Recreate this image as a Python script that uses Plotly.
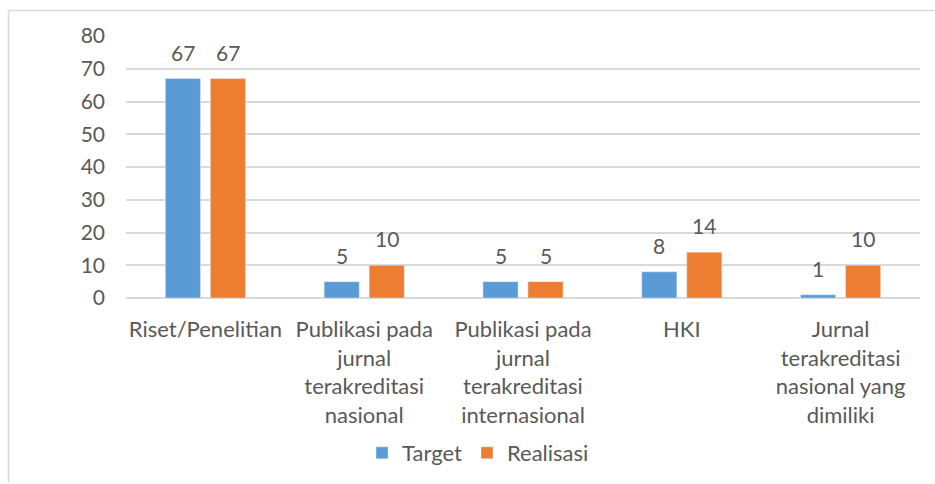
import plotly.graph_objects as go

categories = [
    "Riset/Penelitian",
    "Publikasi pada<br>jurnal<br>terakreditasi<br>nasional",
    "Publikasi pada<br>jurnal<br>terakreditasi<br>internasional",
    "HKI",
    "Jurnal<br>terakreditasi<br>nasional yang<br>dimiliki",
]
target = [67, 5, 5, 8, 1]
realisasi = [67, 10, 5, 14, 10]
y_ticks = [0, 10, 20, 30, 40, 50, 60, 70, 80]

FONT = "Lato, 'Open Sans', sans-serif"
TXT = "#595959"
FS = 21
FX = 22
W, H = 935, 484
L, R, T, B = 126, 15, 36, 185
pw, ph = W - L - R, H - T - B

fig = go.Figure()
fig.add_trace(go.Bar(name="Target", x=categories, y=target, marker_color="#5b9bd5"))
fig.add_trace(go.Bar(name="Realisasi", x=categories, y=realisasi, marker_color="#ed7d31"))

annotations = []
for series, shift in ((target, -22.5), (realisasi, 22.5)):
    for c, v in zip(categories, series):
        annotations.append(dict(x=c, y=v, xref="x", yref="y", text=str(v), showarrow=False,
                                xshift=shift, yshift=12, yanchor="bottom",
                                font=dict(size=FS, color=TXT, family=FONT)))

def px(xp):
    return (xp - L) / pw

def py(yp):
    return (H - B - yp) / ph

fig.update_layout(
    width=W, height=H,
    margin=dict(l=L, r=R, t=T, b=B),
    paper_bgcolor="white", plot_bgcolor="white",
    barmode="group", bargap=0.433, bargroupgap=0.22,
    font=dict(family=FONT, size=FS, color=TXT),
    showlegend=True,
    annotations=annotations,
    legend=dict(orientation="h", x=px(478), xanchor="center", y=py(453), yanchor="middle",
                font=dict(size=FX, color=TXT), itemwidth=30, tracegroupgap=0),
    xaxis=dict(showgrid=False, showline=False, ticks="", tickfont=dict(size=FX, color=TXT),
               tickangle=0, automargin=False, ticklabelstandoff=16),
    yaxis=dict(range=[0, 80], tickvals=y_ticks, showgrid=True, gridcolor="#d9d9d9", gridwidth=1.5,
               zeroline=True, zerolinecolor="#d9d9d9", zerolinewidth=1.5, ticks="",
               tickfont=dict(size=FS, color=TXT), ticklabelstandoff=20, automargin=False),
    shapes=[
        dict(type="line", xref="paper", yref="paper", x0=px(8.5), x1=px(935), y0=py(10.5), y1=py(10.5),
             line=dict(color="#d9d9d9", width=1.5)),
        dict(type="line", xref="paper", yref="paper", x0=px(8.5), x1=px(8.5), y0=py(10.5), y1=py(484),
             line=dict(color="#d9d9d9", width=1.5)),
    ],
)

fig.write_html("out.html", config={"displayModeBar": False},
               post_script="document.body.style.margin='0';document.body.style.overflow='hidden';")
